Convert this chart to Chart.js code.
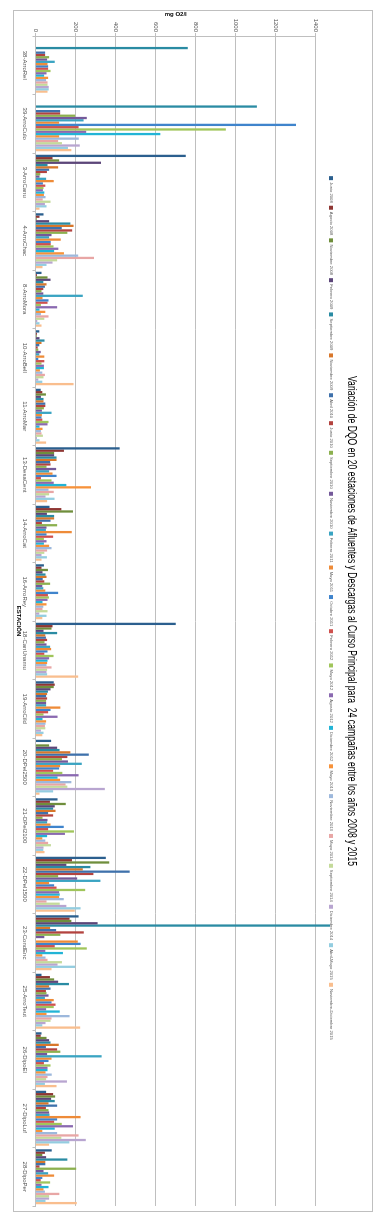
<!DOCTYPE html>
<html lang="es">
<head>
<meta charset="utf-8">
<title>Variación de DQO</title>
<script src="https://cdn.jsdelivr.net/npm/chart.js@4.4.1/dist/chart.umd.min.js"></script>
<style>
  html, body { margin: 0; padding: 0; background: #fff; }
  body { width: 381px; height: 1218px; overflow: hidden; position: relative; }
  /* the chart is drawn landscape and turned a quarter turn, like the original */
  #wrap { position: absolute; left: 0; top: 0; width: 1218px; height: 381px;
          transform-origin: 0 0; transform: translateX(381px) rotate(90deg); }
</style>
</head>
<body>
<div id="wrap"><canvas id="dqoChart" width="1218" height="381"></canvas></div>
<script>
const titulo = "Variación de DQO en 20 estaciones de Afluentes y Descargas al Curso Principal para  24 campañas entre los años 2008 y 2015";

const estaciones = ["38-ArroRel", "39-ArroCulo", "3-ArroCanu", "4-ArroChac", "8-ArroMora", "10-ArroBell",
  "11-ArroMar", "13-DesaCent", "14-ArroCat", "16-ArroRey", "18-CanUnamu", "19-ArroCild", "20-DPel2500",
  "21-DPel2100", "22-DPel1500", "23-CondEnc", "25-ArroTeut", "26-DipoEl", "27-DipoLuf", "28-DipoPer"];

const campanas = ["Junio 2008", "Agosto 2008", "Noviembre 2008", "Febrero 2009", "Septiembre 2009",
  "Noviembre 2009", "Abril 2010", "Junio 2010", "Septiembre 2010", "Noviembre 2010", "Febrero 2011",
  "Mayo 2011", "Octubre 2011", "Febrero 2012", "Mayo 2012", "Agosto 2012", "Diciembre 2012", "Mayo 2013",
  "Noviembre 2013", "Mayo 2014", "Septiembre 2014", "Diciembre 2014", "Abril-Mayo 2015",
  "Noviembre-Diciembre 2015"];

const yTicks = [0, 200, 400, 600, 800, 1000, 1200, 1400];

// mg O2/l per station, one value per campaign (null = not sampled)
const e38 = [null, null, null, null, 760, null, 48, 48, 68, 58, 96, 60, 63, 63, 75, 55, 43, 63, 53, 60, 60, 66, 66, 60];
const e39 = [null, null, null, null, 1105, null, 123, 123, 198, 256, 240, 118, 1300, 215, 950, 253, 623, 118, 216, 113, 132, 221, 162, 179];
const e3 = [750, 85, 118, 327, 60, 113, 68, 57, 24, 20, 53, 91, 37, 49, 40, 37, 44, 42, 50, 36, 75, 47, 55, 20];
const e4 = [40, 20, 6, 68, 174, 190, 131, 183, 159, 80, 68, 126, 76, 76, 90, 114, 93, 142, 213, 292, 108, 85, 55, 35];
const e8 = [30, 7, 60, 75, 39, 55, 47, 39, 30, 39, 236, 35, 65, 60, 27, 108, 20, 49, 27, 65, 44, 9, 20, 30];
const e10 = [19, 7, 6, 20, 45, 30, 19, 11, 14, 26, 19, 44, 14, 44, 30, 42, 42, 22, 34, 47, 40, 14, 34, 190];
const e11 = [26, 34, 52, 27, 40, 40, 49, 49, 42, 32, 80, 32, 30, 34, 65, 60, 20, 35, 27, 30, 37, 7, 20, 53];
const e13 = [420, 142, 93, 93, 105, 105, 73, 75, 55, 103, 68, 85, 105, 27, 80, 91, 154, 277, 65, 91, 68, 50, 95, 58];
const e14 = [70, 129, 187, 57, 93, 93, 75, 32, 108, 55, 52, 181, 55, 88, 42, 55, 42, 68, 80, 58, 44, 30, 57, 30];
const e16 = [42, 30, 62, 35, 50, 55, 36, 44, 73, 34, 39, 49, 113, 62, 67, 60, 35, 55, 39, 35, 60, 19, 55, 34];
const e18 = [700, 85, 80, 40, 108, 49, 52, 58, 45, 55, 73, 78, 60, 44, 90, 68, 60, 58, 55, 80, 58, 55, 58, 213];
const e19 = [91, 96, 91, 75, 62, 58, 53, 58, 53, 53, 53, 124, 75, 63, 40, 110, 35, 53, 50, 47, 49, 27, 40, 34];
const e20 = [78, null, 68, 108, 120, 174, 266, 159, 132, 162, 231, 123, 118, 88, 134, 215, 110, 123, 179, 150, 159, 346, 88, 20];
const e21 = [110, 72, 151, 96, 88, 100, 63, 88, 35, 60, 58, 75, 141, 63, 192, 147, 58, 34, 49, 63, 77, 40, 39, 45];
const e22 = [351, 182, 368, 154, 274, 236, 470, 289, 113, 208, 324, 68, 93, 105, 248, 118, 121, 118, 141, 55, 121, 154, 225, 196];
const e23 = [215, 170, 179, 310, 1470, 73, 103, 241, 124, 44, null, 211, 225, 96, 256, 49, 137, 34, 50, 60, 132, 110, 198, 80];
const e25 = [30, 72, 93, 113, 167, 68, 75, 52, 55, 65, 47, 91, 80, 100, 91, 53, 121, 55, 170, 80, 75, 50, 34, 223];
const e26 = [30, 26, 55, 68, 75, 116, 52, 108, 124, 58, 330, 80, 65, 42, 75, 60, 60, 50, 81, 60, 53, 157, 47, 105];
const e27 = [53, 88, 98, 78, 96, 65, 108, 52, 65, 68, 70, 225, 108, 93, 131, 187, 96, 34, 108, 215, 129, 251, 169, 68];
const e28 = [81, 47, 34, 53, 159, 49, 49, 20, 203, 40, 63, 93, 34, 26, 73, 30, 65, 40, 47, 119, 68, 68, 50, 206];

const porEstacion = [e38, e39, e3, e4, e8, e10, e11, e13, e14, e16, e18, e19, e20, e21, e22, e23, e25, e26, e27, e28];

const colores = [
  "#2B5F8E", "#8E3633", "#6F8E3C", "#5C4679", "#2A8BA3", "#D8772B",
  "#3F71AB", "#B3433F", "#8CB04F", "#74599A", "#3AA4C2", "#EE8B38",
  "#3F84CC", "#CF514E", "#A0C55B", "#8A69B0", "#22B4D6", "#F7923A",
  "#9DB8DC", "#E8A6A5", "#C4DA9A", "#B8A5D0", "#93CDE0", "#F9BE8E"
];

const datasets = campanas.map((label, i) => ({
  label,
  data: porEstacion.map(v => v[i]),
  backgroundColor: colores[i],
  borderWidth: 0,
  barPercentage: 1,
  categoryPercentage: 0.94,
  clip: false
}));

const marco = {
  id: "marco",
  beforeDraw(chart) {
    const ctx = chart.ctx;
    ctx.save();
    ctx.fillStyle = "#fff";
    ctx.fillRect(0, 0, chart.width, chart.height);
    ctx.strokeStyle = "#BFBFBF";
    ctx.lineWidth = 1;
    ctx.strokeRect(10.5, 8.5, 1201, 359);
    ctx.restore();
  }
};

// the title in the picture is squeezed, so it is drawn to its measured length
const tituloAngosto = {
  id: "tituloAngosto",
  afterDraw(chart) {
    const { ctx, chartArea } = chart;
    ctx.save();
    ctx.font = '12.5px "Liberation Sans", Arial, sans-serif';
    const w = ctx.measureText(titulo).width;
    ctx.translate((chartArea.left + chartArea.right) / 2, 30);
    ctx.scale(490 / w, 1);
    ctx.fillStyle = "#000";
    ctx.textAlign = "center";
    ctx.textBaseline = "middle";
    ctx.fillText(titulo, 0, 0);
    ctx.restore();
  }
};

const gris = "#BFBFBF";
const fuente = "'Liberation Sans', Arial, sans-serif";

new Chart(document.getElementById("dqoChart"), {
  type: "bar",
  data: { labels: estaciones, datasets },
  plugins: [marco, tituloAngosto],
  options: {
    responsive: false,
    animation: false,
    layout: { padding: { top: 45, left: 10, right: 12, bottom: 13 } },
    plugins: {
      title: { display: false },
      subtitle: {
        display: true, text: " ", position: "top", weight: 500,
        padding: 0, font: { size: 3, lineHeight: "2.8px" }
      },
      legend: {
        position: "top",
        labels: {
          boxWidth: 4, boxHeight: 4, padding: 3,
          color: "#595959", font: { size: 4.2, family: fuente }
        }
      },
      tooltip: { enabled: false }
    },
    scales: {
      x: {
        grid: { drawOnChartArea: false, tickLength: 3, color: gris },
        border: { color: gris },
        ticks: {
          maxRotation: 0, minRotation: 0, autoSkip: false, padding: 4,
          color: "#595959", font: { size: 6, family: fuente }
        },
        title: {
          display: true, text: "ESTACIÓN", color: "#000",
          font: { size: 6, weight: "bold", family: fuente }, padding: { top: 0, bottom: 2 }
        },
        afterFit(scale) { scale.height = 22.5; }
      },
      y: {
        min: 0,
        max: 1400,
        grid: { color: gris, tickLength: 3 },
        border: { color: gris },
        afterBuildTicks(scale) { scale.ticks = yTicks.map(value => ({ value })); },
        ticks: {
          padding: 1, color: "#595959", font: { size: 6, family: fuente },
          callback: value => String(value)
        },
        title: {
          display: true, text: "mg O2/l", color: "#000",
          font: { size: 6, weight: "bold", family: fuente }, padding: { top: 1, bottom: 0 }
        },
        afterFit(scale) { scale.width = 26; }
      }
    }
  }
});
</script>
</body>
</html>
